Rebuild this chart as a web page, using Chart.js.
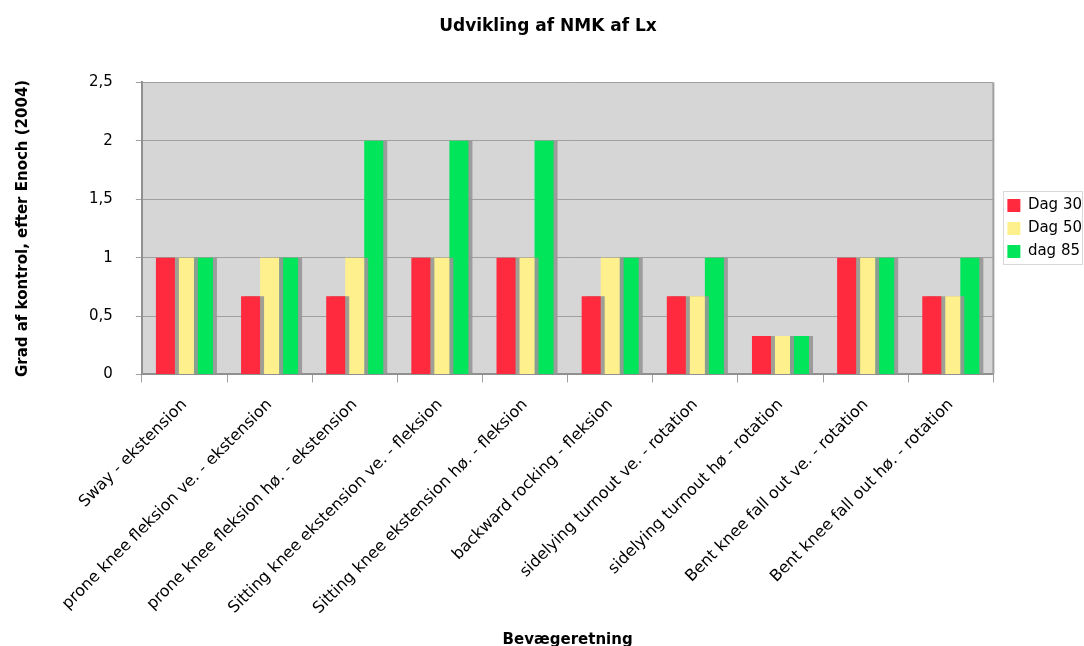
<!DOCTYPE html>
<html>
<head>
<meta charset="utf-8">
<script src="https://cdn.jsdelivr.net/npm/chart.js@4"></script>
<style>
  body { margin: 0; background: #fff; }
  #wrap { width: 1084px; height: 646px; }
</style>
</head>
<body>
<div id="wrap"><canvas id="c"></canvas></div>
<script>
const categories = [
  'Sway - ekstension',
  'prone knee fleksion ve. - ekstension',
  'prone knee fleksion hø. - ekstension',
  'Sitting knee ekstension ve. - fleksion',
  'Sitting knee ekstension hø. - fleksion',
  'backward rocking - fleksion',
  'sidelying turnout ve. - rotation',
  'sidelying turnout hø - rotation',
  'Bent knee fall out ve. - rotation',
  'Bent knee fall out hø. - rotation'
];
const dag30 = [1, 0.67, 0.67, 1, 1, 0.67, 0.67, 0.33, 1, 0.67];
const dag50 = [1, 1, 1, 1, 1, 1, 0.67, 0.33, 1, 0.67];
const dag85 = [1, 1, 2, 2, 2, 1, 1, 0.33, 1, 1];

const font = 'DejaVu Sans';

// grey plot background, bar shadows, plot frame and legend box
const plotBg = {
  id: 'plotBg',
  afterLayout(chart) {
    // legend sits beside the plot, vertically centred on it
    const l = chart.legend, a = chart.chartArea;
    const w = l.right - l.left;
    l.left = a.right + 6;
    l.right = l.left + w;
    l.top = a.top;
    l.bottom = a.bottom;
    l.height = a.bottom - a.top;
  },
  beforeDraw(chart) {
    const { ctx, chartArea: a } = chart;
    ctx.save();
    ctx.fillStyle = '#d6d6d6';
    ctx.fillRect(a.left, a.top, a.right - a.left, a.bottom - a.top);
    ctx.restore();
  },
  beforeDatasetsDraw(chart) {
    const ctx = chart.ctx;
    ctx.save();
    ctx.shadowColor = 'rgba(150,150,150,0.9)';
    ctx.shadowOffsetX = 4;
    ctx.shadowOffsetY = 0;
    ctx.shadowBlur = 0;
  },
  afterDatasetsDraw(chart) {
    chart.ctx.restore();
  },
  afterDraw(chart) {
    const { ctx, chartArea: a } = chart;
    ctx.save();
    ctx.strokeStyle = '#a0a0a0';
    ctx.lineWidth = 2;
    ctx.beginPath();
    ctx.moveTo(a.right, a.top);
    ctx.lineTo(a.right, a.bottom);
    ctx.stroke();

    const boxes = chart.legend.legendHitBoxes;
    const x0 = Math.min(...boxes.map(b => b.left)) - 4;
    const y0 = Math.min(...boxes.map(b => b.top)) - 7;
    const x1 = chart.width - 2;
    const y1 = Math.max(...boxes.map(b => b.top + b.height)) + 5;
    ctx.strokeStyle = '#d8d8d8';
    ctx.lineWidth = 1;
    ctx.strokeRect(Math.round(x0) + 0.5, Math.round(y0) + 0.5, Math.round(x1 - x0), Math.round(y1 - y0));
    ctx.restore();
  }
};

new Chart(document.getElementById('c'), {
  type: 'bar',
  data: {
    labels: categories,
    datasets: [
      { label: 'Dag 30', data: dag30, backgroundColor: '#ff2a3e' },
      { label: 'Dag 50', data: dag50, backgroundColor: '#fff08e' },
      { label: 'dag 85', data: dag85, backgroundColor: '#00e55a' }
    ]
  },
  options: {
    responsive: true,
    maintainAspectRatio: false,
    animation: false,
    categoryPercentage: 0.67,
    barPercentage: 1,
    layout: { padding: { top: 10, right: -2, left: 10, bottom: -3 } },
    plugins: {
      title: {
        display: true,
        text: 'Udvikling af NMK af Lx',
        font: { family: font, size: 17, weight: 'bold' },
        color: '#000',
        padding: { top: 6, bottom: 46 }
      },
      legend: {
        position: 'right',
        labels: {
          font: { family: font, size: 15 },
          color: '#000',
          boxWidth: 13,
          boxHeight: 13,
          padding: 8
        }
      },
      tooltip: { enabled: false }
    },
    scales: {
      x: {
        offset: true,
        grid: {
          display: true,
          offset: true,
          drawOnChartArea: false,
          tickLength: 8,
          color: '#a0a0a0'
        },
        border: { color: '#909090', width: 2 },
        ticks: {
          minRotation: 45,
          maxRotation: 45,
          autoSkip: false,
          padding: 13,
          font: { family: font, size: 16 },
          color: '#000'
        },
        title: {
          display: true,
          text: 'Bevægeretning',
          font: { family: font, size: 15, weight: 'bold' },
          color: '#000',
          padding: { top: 0, bottom: 0 }
        }
      },
      y: {
        min: 0,
        max: 2.5,
        ticks: {
          stepSize: 0.5,
          font: { family: font, size: 15 },
          color: '#000',
          padding: 23,
          callback: v => String(v).replace('.', ',')
        },
        grid: { color: '#a0a0a0', tickLength: 6 },
        border: { color: '#909090', width: 2 },
        title: {
          display: true,
          text: 'Grad af kontrol, efter Enoch (2004)',
          font: { family: font, size: 15, weight: 'bold' },
          color: '#000',
          padding: { bottom: 34 }
        }
      }
    }
  },
  plugins: [plotBg]
});
</script>
</body>
</html>
